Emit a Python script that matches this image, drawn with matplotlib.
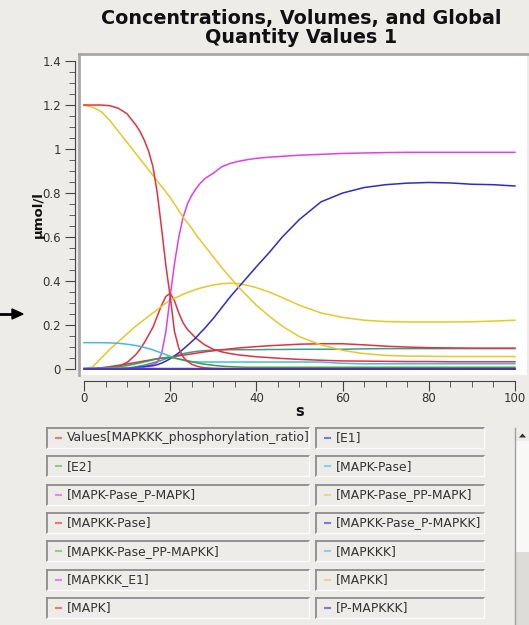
import matplotlib
matplotlib.use('Agg')
import matplotlib.pyplot as plt
from matplotlib.lines import Line2D
from matplotlib.patches import Rectangle, Polygon

W, H = 529, 625
BG = '#eeece9'

# time points (s)
t = [0, 2, 4, 6, 8, 10, 12, 13, 14, 15, 16, 17, 18, 19, 20, 21, 22, 23, 24, 25, 26, 27, 28,
     30, 32, 34, 36, 38, 40, 43, 46, 50, 55, 60, 65, 70, 75, 80, 85, 90, 95, 100]

ratio = [0, 0.002, 0.006, 0.011, 0.017, 0.023, 0.03, 0.033, 0.037, 0.04, 0.044, 0.047, 0.05, 0.052, 0.055,
         0.057, 0.06, 0.063, 0.066, 0.069, 0.072, 0.075, 0.078, 0.083, 0.088, 0.092, 0.096, 0.099, 0.102,
         0.106, 0.109, 0.113, 0.115, 0.115, 0.11, 0.104, 0.1, 0.097, 0.096, 0.095, 0.095, 0.095]
e1 = [0.003] * 6 + [0.002] * 36
e2 = [0.0005] * 42
mapk_pase = [0.12, 0.12, 0.12, 0.119, 0.117, 0.113, 0.107, 0.103, 0.098, 0.093, 0.087, 0.08, 0.073, 0.066,
             0.058, 0.051, 0.045, 0.04, 0.037, 0.034, 0.033, 0.032, 0.032, 0.032, 0.032, 0.032, 0.032,
             0.032, 0.032, 0.032, 0.032, 0.032, 0.032, 0.026, 0.024, 0.024, 0.024, 0.024, 0.024, 0.024,
             0.024, 0.024]
mapk_pase_p = [0.0] * 42
mapk_pase_pp = [0.001] * 42
mapkk_pase = [0.0] * 42
mapkk_pase_p = [0.0] * 42
mapkk_pase_pp = [0, 0.001, 0.003, 0.006, 0.01, 0.016, 0.024, 0.028, 0.033, 0.037, 0.042, 0.046, 0.05, 0.052,
                 0.052, 0.05, 0.046, 0.042, 0.037, 0.033, 0.029, 0.025, 0.022, 0.017, 0.013, 0.011, 0.009,
                 0.008, 0.008, 0.008, 0.008, 0.008, 0.008, 0.008, 0.008, 0.008, 0.008, 0.008, 0.008, 0.008,
                 0.008, 0.008]
mapkkk = [0.003] * 10 + [0.002] * 10 + [0.001] * 22
mapkkk_e1 = [0.0] * 42
mapkk = [1.2, 1.19, 1.17, 1.13, 1.08, 1.03, 0.98, 0.955, 0.93, 0.905, 0.88, 0.855, 0.83, 0.805, 0.78, 0.75,
         0.72, 0.69, 0.665, 0.64, 0.61, 0.585, 0.56, 0.51, 0.46, 0.415, 0.37, 0.33, 0.29, 0.24, 0.195,
         0.147, 0.11, 0.085, 0.07, 0.062, 0.059, 0.058, 0.057, 0.057, 0.057, 0.057]
mapk = [1.2, 1.2, 1.2, 1.197, 1.185, 1.16, 1.11, 1.08, 1.04, 0.99, 0.92, 0.8, 0.64, 0.47, 0.33, 0.17, 0.095,
        0.055, 0.035, 0.022, 0.014, 0.009, 0.006, 0.003, 0.002, 0.002, 0.001, 0.001, 0.001, 0.001, 0.001,
        0.001, 0.001, 0.001, 0.001, 0.001, 0.001, 0.001, 0.001, 0.001, 0.001, 0.001]
p_mapkkk = [0.001] * 42

# series further down the (scrolled) legend
p_mapk = [0, 0.001, 0.003, 0.006, 0.013, 0.03, 0.065, 0.09, 0.12, 0.155, 0.19, 0.24, 0.29, 0.33, 0.345,
          0.31, 0.255, 0.21, 0.18, 0.16, 0.14, 0.125, 0.11, 0.09, 0.078, 0.07, 0.064, 0.06, 0.056, 0.052,
          0.048, 0.044, 0.04, 0.037, 0.036, 0.035, 0.034, 0.034, 0.033, 0.033, 0.033, 0.033]
p_mapkk = [0, 0.01, 0.05, 0.09, 0.125, 0.16, 0.195, 0.21, 0.225, 0.24, 0.255, 0.27, 0.285, 0.3, 0.315,
           0.322, 0.33, 0.34, 0.348, 0.355, 0.362, 0.368, 0.373, 0.382, 0.388, 0.39, 0.388, 0.38, 0.37,
           0.35, 0.325, 0.29, 0.255, 0.235, 0.222, 0.216, 0.214, 0.214, 0.214, 0.215, 0.218, 0.222]
pp_mapk = [0, 0, 0, 0, 0, 0, 0.003, 0.006, 0.01, 0.016, 0.022, 0.03, 0.07, 0.17, 0.33, 0.48, 0.6, 0.69,
           0.75, 0.79, 0.82, 0.845, 0.865, 0.89, 0.92, 0.935, 0.945, 0.952, 0.958, 0.963, 0.967, 0.972,
           0.976, 0.98, 0.982, 0.984, 0.985, 0.985, 0.985, 0.985, 0.985, 0.985]
pp_mapkk = [0, 0, 0, 0, 0, 0.003, 0.007, 0.009, 0.011, 0.013, 0.015, 0.02, 0.027, 0.036, 0.047, 0.06,
            0.074, 0.09, 0.107, 0.125, 0.143, 0.165, 0.185, 0.23, 0.28, 0.33, 0.375, 0.42, 0.465, 0.53,
            0.6, 0.68, 0.76, 0.8, 0.825, 0.838, 0.845, 0.848, 0.846, 0.84, 0.838, 0.832]
mapk_pase_total = [0, 0, 0.001, 0.002, 0.003, 0.005, 0.01, 0.014, 0.018, 0.023, 0.028, 0.034, 0.04, 0.047,
                   0.053, 0.059, 0.065, 0.07, 0.074, 0.077, 0.08, 0.082, 0.084, 0.086, 0.087, 0.088, 0.088,
                   0.088, 0.088, 0.089, 0.089, 0.09, 0.09, 0.09, 0.092, 0.093, 0.093, 0.093, 0.093, 0.093,
                   0.093, 0.093]

RED, BLUE, GREEN, CYAN, MAG, YEL = '#e2323e', '#2c2cc8', '#33a04a', '#40bce0', '#e040e6', '#e6c82a'

names = ['Values[MAPKKK_phosphorylation_ratio]', '[E1]', '[E2]', '[MAPK-Pase]', '[MAPK-Pase_P-MAPK]',
         '[MAPK-Pase_PP-MAPK]', '[MAPKK-Pase]', '[MAPKK-Pase_P-MAPKK]', '[MAPKK-Pase_PP-MAPKK]',
         '[MAPKKK]', '[MAPKKK_E1]', '[MAPKK]', '[MAPK]', '[P-MAPKKK]']
series = [ratio, e1, e2, mapk_pase, mapk_pase_p, mapk_pase_pp, mapkk_pase, mapkk_pase_p,
          mapkk_pase_pp, mapkkk, mapkkk_e1, mapkk, mapk, p_mapkkk]
colors = [RED, BLUE, GREEN, CYAN, MAG, YEL] * 2 + [RED, BLUE]
legend_colors = ['#e87a7a', '#7a7ad8', '#8ccc8c', '#8ccfe0', '#e08ae0', '#e6d88a'] * 2 + ['#e87a7a', '#7a7ad8']

extra = [mapk_pase_total, p_mapk, p_mapkk, pp_mapk, pp_mapkk]
extra_colors = ['#3a9e8e', RED, YEL, MAG, BLUE]

fig = plt.figure(figsize=(W / 100, H / 100), dpi=100, facecolor=BG)

def fx(px):
    return px / W

def fy(py):
    return 1 - py / H

ax = fig.add_axes([fx(79), fy(375), (527 - 79) / W, (375 - 54) / H])
ax.set_facecolor('white')
for vals, c in zip(extra, extra_colors):
    ax.plot(t, vals, color=c, lw=1.1)
for vals, c in zip(series, colors):
    ax.plot(t, vals, color=c, lw=1.1)

ax.set_xlim(-1.16, 102.8)
ax.set_ylim(-0.027, 1.432)
ax.spines['top'].set_visible(False)
ax.spines['right'].set_visible(False)
ax.spines['left'].set_position(('outward', 3))
ax.spines['bottom'].set_position(('outward', 4))
ax.spines['left'].set_bounds(0, 1.4)
ax.spines['bottom'].set_bounds(0, 100)
for s in ('left', 'bottom'):
    ax.spines[s].set_color('#444444')
ax.set_xticks([0, 20, 40, 60, 80, 100])
ax.set_xticks(range(0, 101, 5), minor=True)
ax.set_yticks([0, 0.2, 0.4, 0.6, 0.8, 1.0, 1.2, 1.4])
ax.set_yticklabels(['0', '0.2', '0.4', '0.6', '0.8', '1', '1.2', '1.4'])
ax.set_yticks([i * 0.05 for i in range(29)], minor=True)
ax.tick_params(which='major', length=7, color='#444444', labelsize=8.5, labelcolor='#333333', pad=3)
ax.tick_params(axis='x', which='major', pad=1.5)
ax.tick_params(which='minor', length=4, color='#444444')
ax.set_xticklabels(['0', '20', '40', '60', '80', '100'])

# sunken frame around plot area
fig.add_artist(Line2D([fx(79), fx(529)], [fy(54), fy(54)], color='#a8a8a8', lw=2))
fig.add_artist(Line2D([fx(79), fx(79)], [fy(54), fy(375)], color='#a8a8a8', lw=2))

fig.text(fx(301), fy(28), 'Concentrations, Volumes, and Global\nQuantity Values 1', ha='center',
         va='center', fontsize=13.8, fontweight='bold', color='#111111', linespacing=1.05)
fig.text(fx(38), fy(215), 'µmol/l', rotation=90, ha='center', va='center', fontsize=9.5,
         fontweight='bold', color='#111111')
fig.text(fx(300), fy(412), 's', ha='center', va='center', fontsize=10.5, fontweight='bold', color='#111111')

# arrow on the left edge
fig.add_artist(Line2D([fx(0), fx(15)], [fy(314), fy(314)], color='black', lw=2))
fig.add_artist(Polygon([[fx(12), fy(309)], [fx(23), fy(314)], [fx(12), fy(319)]], closed=True,
                       facecolor='black', edgecolor='black', transform=fig.transFigure))

# legend boxes
col_x = [(47, 309), (316, 484)]
for i, name in enumerate(names):
    r, c = divmod(i, 2)
    yc = 438 + 28.3 * r
    x0, x1 = col_x[c]
    top, bot = yc - 10, yc + 10
    fig.add_artist(Line2D([fx(x0), fx(x1)], [fy(top), fy(top)], color='#8c8c8c', lw=1.3))
    fig.add_artist(Line2D([fx(x0), fx(x0)], [fy(top), fy(bot)], color='#8c8c8c', lw=1.3))
    fig.add_artist(Line2D([fx(x0), fx(x1)], [fy(bot), fy(bot)], color='#fbfbfb', lw=1))
    fig.add_artist(Line2D([fx(x1), fx(x1)], [fy(top), fy(bot)], color='#fbfbfb', lw=1))
    fig.add_artist(Line2D([fx(x0 + 9), fx(x0 + 14)], [fy(yc), fy(yc)], color=legend_colors[i], lw=1.5))
    fig.text(fx(x0 + 19.5), fy(yc), name, ha='left', va='center', fontsize=8.9, color='#333333')

# scroll bar
fig.add_artist(Rectangle((fx(515), fy(625)), 14 / W, (625 - 428) / H, transform=fig.transFigure,
                         facecolor='#dedcd9', edgecolor='none'))
fig.add_artist(Rectangle((fx(516), fy(552)), 13 / W, (552 - 441) / H, transform=fig.transFigure,
                         facecolor='#f8f8f7', edgecolor='none'))
fig.add_artist(Rectangle((fx(516), fy(441)), 13 / W, 13 / H, transform=fig.transFigure,
                         facecolor='#eeece9', edgecolor='none'))
fig.add_artist(Line2D([fx(515), fx(515)], [fy(428), fy(625)], color='#a0a0a0', lw=1))
fig.add_artist(Polygon([[fx(519), fy(437.5)], [fx(522.5), fy(433.5)], [fx(526), fy(437.5)]], closed=True,
                       facecolor='#333333', edgecolor='none', transform=fig.transFigure))

fig.savefig('out.png', dpi=100, facecolor=BG)
